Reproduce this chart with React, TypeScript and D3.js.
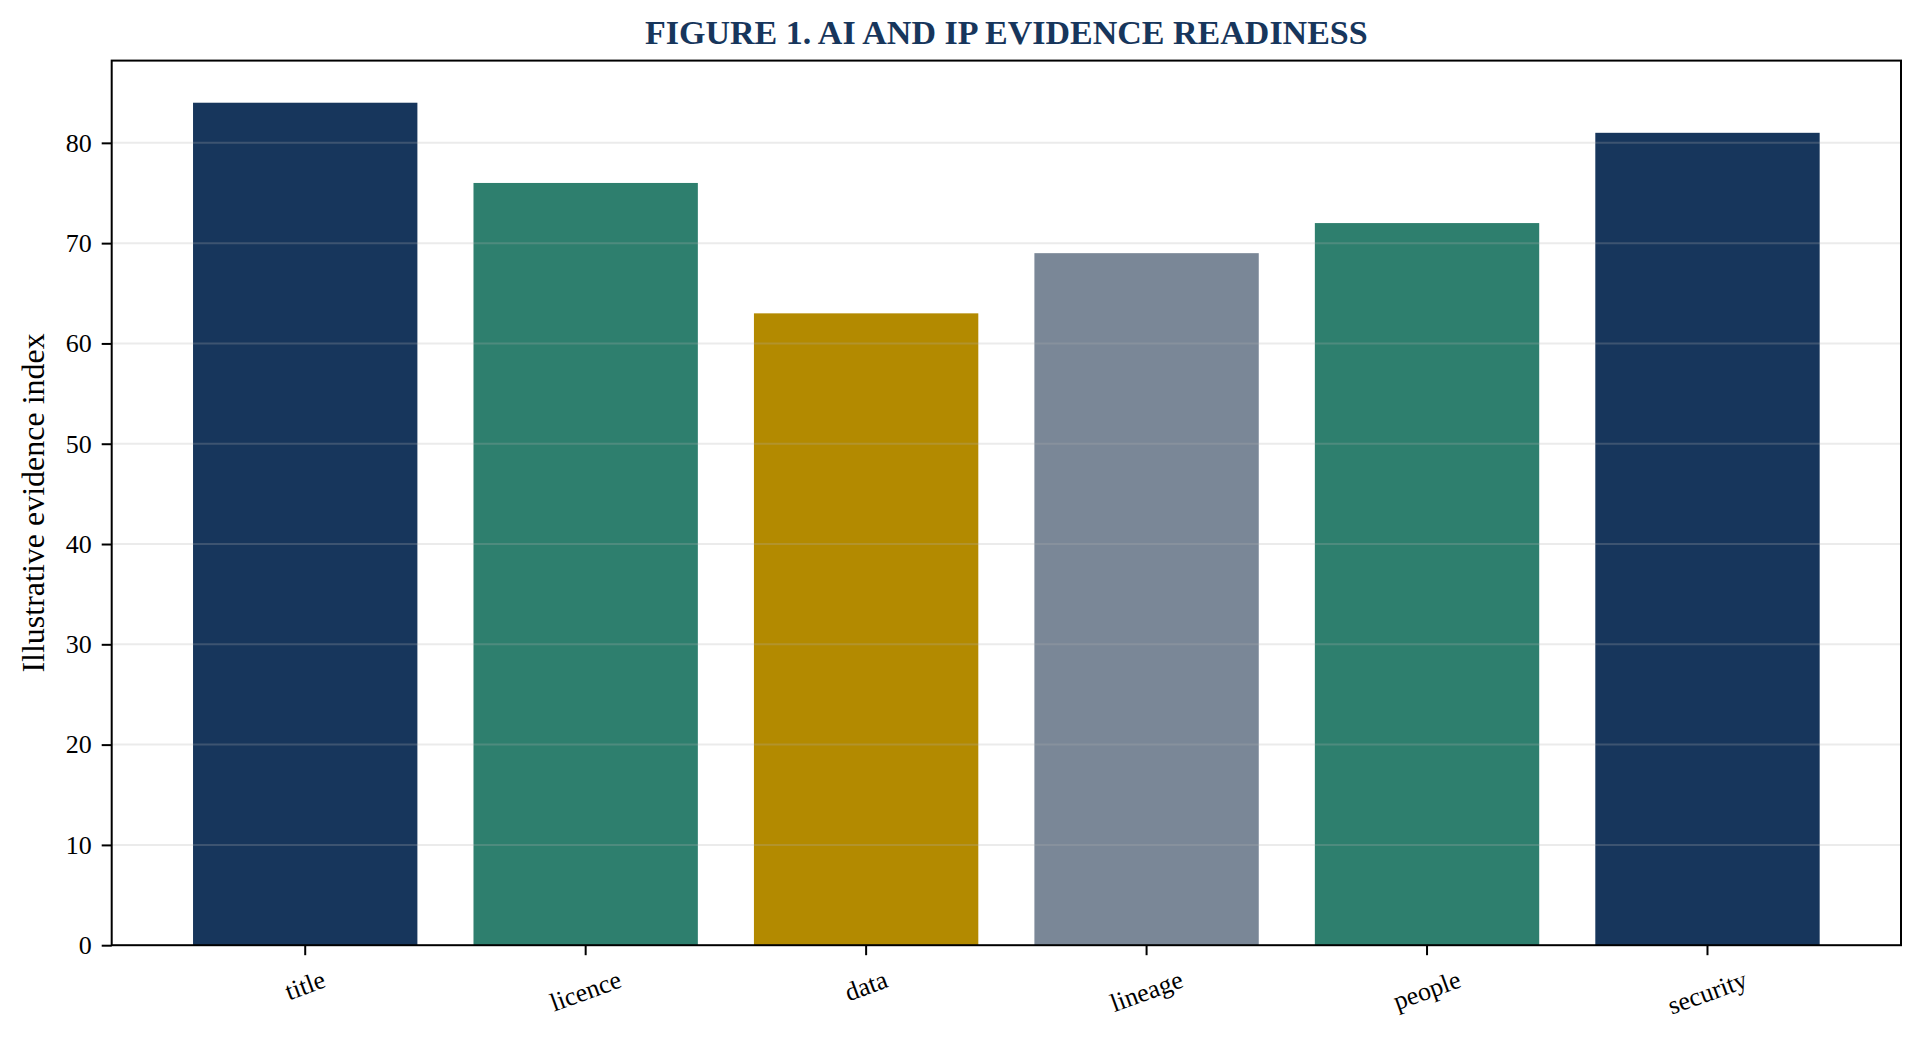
import { useEffect, useRef } from "react";
import * as d3 from "d3";

const CATEGORIES = ["title", "licence", "data", "lineage", "people", "security"];
const VALUES = [84, 76, 63, 69, 72, 81];
const BAR_COLORS = ["#17365c", "#2e7f6e", "#b38a00", "#7a8797", "#2e7f6e", "#17365c"];
const Y_TICKS = [0, 10, 20, 30, 40, 50, 60, 70, 80];
const TITLE = "FIGURE 1. AI AND IP EVIDENCE READINESS";
const Y_LABEL = "Illustrative evidence index";

export default function App() {
  const svgRef = useRef<SVGSVGElement>(null);

  useEffect(() => {
    if (!svgRef.current) return;
    const W = 1924;
    const H = 1044;
    const m = { top: 60.6, right: 23, bottom: 98.8, left: 111.7 };
    const iW = W - m.left - m.right;
    const iH = H - m.top - m.bottom;
    const font = "'Liberation Serif', 'Times New Roman', serif";

    const root = d3.select(svgRef.current);
    root.selectAll("*").remove();

    const g = root.append("g").attr("transform", `translate(${m.left},${m.top})`);

    const x = d3.scaleBand<string>().domain(CATEGORIES).range([0, iW]).paddingInner(0.2).paddingOuter(0.29);
    const y = d3.scaleLinear().domain([0, d3.max(VALUES)! * 1.05]).range([iH, 0]);

    // bars
    g.selectAll(".bar")
      .data(CATEGORIES)
      .join("rect")
      .attr("x", d => x(d)!)
      .attr("width", x.bandwidth())
      .attr("y", (_, i) => y(VALUES[i]))
      .attr("height", (_, i) => iH - y(VALUES[i]))
      .attr("fill", (_, i) => BAR_COLORS[i]);

    // grid on top of bars
    g.selectAll(".grid")
      .data(Y_TICKS.filter(t => t > 0))
      .join("line")
      .attr("x1", 0).attr("x2", iW)
      .attr("y1", d => y(d)).attr("y2", d => y(d))
      .attr("stroke", "#b0b0b0").attr("stroke-opacity", 0.25).attr("stroke-width", 2);

    // frame
    g.append("rect")
      .attr("x", 0).attr("y", 0).attr("width", iW).attr("height", iH)
      .attr("fill", "none").attr("stroke", "#000").attr("stroke-width", 2);

    // y axis
    g.append("g")
      .call(d3.axisLeft(y).tickValues(Y_TICKS).tickSize(10).tickPadding(10).tickFormat(d3.format("d")))
      .call(a => a.select(".domain").remove())
      .call(a => a.selectAll("line").attr("stroke", "#000").attr("stroke-width", 2))
      .call(a => a.selectAll("text")
        .attr("fill", "#000").style("font-family", font).style("font-size", "26px"));

    // x axis ticks
    const xa = g.append("g").attr("transform", `translate(0,${iH})`);
    xa.selectAll("line")
      .data(CATEGORIES)
      .join("line")
      .attr("x1", d => x(d)! + x.bandwidth() / 2).attr("x2", d => x(d)! + x.bandwidth() / 2)
      .attr("y1", 0).attr("y2", 10)
      .attr("stroke", "#000").attr("stroke-width", 2);

    const ang = 20 * Math.PI / 180;
    const fs = 26;
    xa.selectAll("text")
      .data(CATEGORIES)
      .join("text")
      .text(d => d)
      .attr("text-anchor", "middle")
      .attr("dominant-baseline", "central")
      .style("font-family", font).style("font-size", `${fs}px`)
      .each(function (d) {
        const w = (this as SVGTextElement).getComputedTextLength();
        const h = fs * 1.1;
        const bh = w * Math.sin(ang) + h * Math.cos(ang);
        const cx = x(d)! + x.bandwidth() / 2;
        const cy = 20 + bh / 2;
        d3.select(this).attr("transform", `translate(${cx},${cy}) rotate(-20)`);
      });

    // y label
    root.append("text")
      .attr("transform", `translate(44,${m.top + iH / 2}) rotate(-90)`)
      .attr("text-anchor", "middle")
      .style("font-family", font).style("font-size", "32px")
      .text(Y_LABEL);

    // title
    root.append("text")
      .attr("x", m.left + iW / 2).attr("y", 44.3)
      .attr("text-anchor", "middle")
      .attr("fill", "#17365c")
      .style("font-family", font).style("font-size", "34px").style("font-weight", "bold")
      .text(TITLE);
  }, []);

  return (
    <svg
      ref={svgRef}
      width={1924}
      height={1044}
      style={{ position: "absolute", left: 0, top: 0, display: "block", background: "#fff" }}
    />
  );
}
